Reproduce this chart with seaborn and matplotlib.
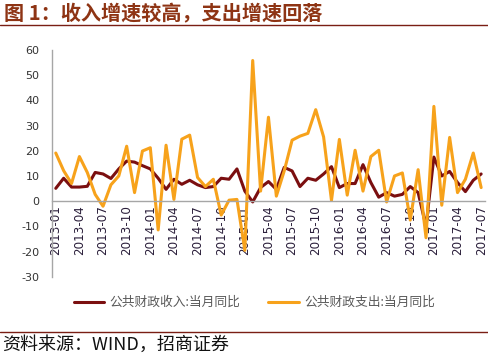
import matplotlib
matplotlib.use("Agg")
import matplotlib.pyplot as plt
import numpy as np
import pandas as pd
import seaborn as sns

# 月份 2013-01 .. 2017-07
MONTHS = [f"{y}-{m:02d}" for y in range(2013, 2018) for m in range(1, 13)][:55]

# 公共财政收入:当月同比 (%)
REVENUE = [5.1, 9.1, 5.6, 5.6, 5.9, 11.4, 10.8, 9.0, 12.8, 15.9, 15.5, 14.1,
           12.8, 9.1, 4.7, 8.7, 6.7, 8.3, 6.5, 5.4, 5.8, 9.1, 8.7, 12.8,
           4.0, -0.3, 5.4, 7.8, 4.7, 13.4, 12.0, 5.8, 9.1, 8.3, 10.8, 13.7,
           5.4, 7.0, 7.0, 14.5, 7.4, 1.6, 3.4, 2.0, 2.7, 5.8, 3.4, -10.0,
           17.5, 10.0, 11.8, 7.4, 3.8, 8.3, 10.8]

# 公共财政支出:当月同比 (%)
SPENDING = [19.1, 12.1, 7.0, 17.7, 11.4, 2.7, -2.0, 6.5, 10.0, 21.8, 3.4, 19.9,
            21.2, -11.4, 22.2, 0.7, 24.6, 26.2, 9.4, 5.8, 8.7, -5.5, 0.4, 0.7,
            -19.5, 55.8, 4.0, 33.3, 2.0, 12.0, 24.2, 25.8, 26.9, 36.3, 25.5, 0.3,
            24.5, 2.4, 20.2, 4.0, 17.7, 20.2, -0.3, 10.0, 11.2, -7.5, 12.5, -14.5,
            37.6, -1.6, 25.3, 3.4, 8.7, 19.1, 5.4]

SERIES = ["公共财政收入:当月同比", "公共财政支出:当月同比"]
COLORS = ["#7B0F10", "#F7A21B"]
YTICKS = list(range(-30, 61, 10))

sns.set_theme(style="white")
plt.rcParams["font.family"] = ["Noto Sans CJK SC", "DejaVu Sans"]
plt.rcParams["axes.unicode_minus"] = False

df = pd.DataFrame({"i": np.arange(len(MONTHS)), SERIES[0]: REVENUE, SERIES[1]: SPENDING})
long = df.melt(id_vars="i", var_name="series", value_name="v")

fig = plt.figure(figsize=(4.89, 3.54), dpi=100)
ax = fig.add_axes([0.106, 0.218, 0.886, 0.641])

sns.lineplot(data=long, x="i", y="v", hue="series", hue_order=SERIES,
             palette=COLORS, lw=2.2, ax=ax, legend=False)

ax.set_xlim(-0.5, len(MONTHS) - 0.5)
ax.set_ylim(-30, 60)
ax.set_yticks(YTICKS)
ax.set_xlabel("")
ax.set_ylabel("")

# 类别轴放在 0 处，标签在类别中间，刻度线在类别之间
ax.spines["bottom"].set_position(("data", 0))
for s in ("top", "right"):
    ax.spines[s].set_visible(False)
for s in ("left", "bottom"):
    ax.spines[s].set_color("#A6A6A6")
    ax.spines[s].set_linewidth(1.0)

ax.set_xticks(np.arange(0, len(MONTHS), 3))
ax.set_xticklabels(MONTHS[::3], rotation=90, fontsize=8.6, color="#2A1E3A",
                   family="DejaVu Sans")
ax.set_xticks(np.arange(-0.5, len(MONTHS), 3), minor=True)
ax.tick_params(axis="x", which="major", length=0, pad=3)
ax.tick_params(axis="x", which="minor", length=4, color="#A6A6A6", direction="out")
ax.tick_params(axis="y", length=3, color="#A6A6A6", direction="out", pad=6,
               labelsize=8, labelcolor="#333333")
for t in ax.get_yticklabels():
    t.set_family("DejaVu Sans")

# 图例
handles = [plt.Line2D([], [], color=c, lw=2.2) for c in COLORS]
fig.legend(handles, SERIES, loc="center", bbox_to_anchor=(0.52, 0.145), ncol=2,
           frameon=False, fontsize=9.2, handlelength=2.4, handletextpad=0.4,
           columnspacing=2.2, labelcolor="#595959")

# 标题与来源
fig.text(0.008, 0.962, "图 1：收入增速较高，支出增速回落", fontsize=14.5,
         fontweight="bold", color="#8E3414", va="center", ha="left")
fig.add_artist(plt.Line2D([0, 0.998], [0.929, 0.929], color="#7A1E14", lw=1.0))
fig.add_artist(plt.Line2D([0, 0.998], [0.062, 0.062], color="#7A1E14", lw=1.0))
fig.text(0.004, 0.027, "资料来源：WIND，招商证券", fontsize=13, color="#111111",
         va="center", ha="left")

fig.savefig("out.png", dpi=100)
